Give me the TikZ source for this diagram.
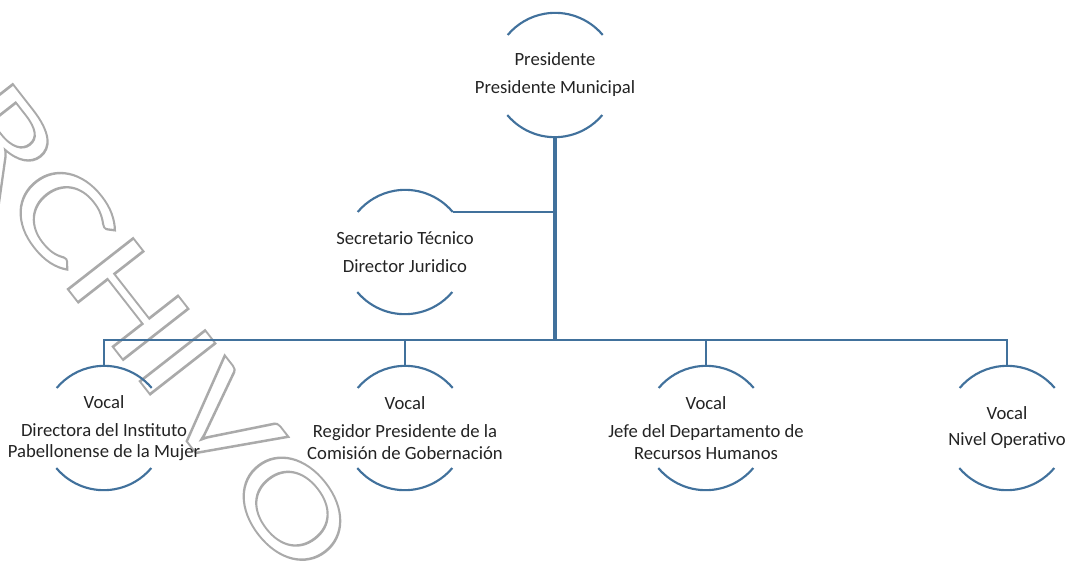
\documentclass[tikz,border=0pt]{standalone}
\usepackage{fontspec}
\setmainfont{Carlito}
\definecolor{lineblue}{RGB}{65,113,156}
\definecolor{wmgray}{RGB}{170,170,170}
\definecolor{txt}{RGB}{35,35,35}
\newcommand\outlinetext[1]{\special{pdf:literal direct 1 Tr 1.4 w}#1\special{pdf:literal direct 0 Tr}}
\tikzset{
  ring/.style={circle, minimum size=93pt, inner sep=0pt, draw=none},
  lbl/.style={align=center, text=txt, inner sep=0pt, font=\fontsize{14}{16}\selectfont},
  arcline/.style={draw=lineblue, line width=1.6pt},
  conn/.style={draw=lineblue, line width=1.5pt},
  trunk/.style={draw=lineblue, line width=2.3pt},
}
\newcommand\orgarcs[1]{%
  \draw[arcline] (#1.40) arc[start angle=40,end angle=140,radius=62];
  \draw[arcline] (#1.220) arc[start angle=220,end angle=320,radius=62];}
\begin{document}
\begin{tikzpicture}[x=0.75pt,y=0.75pt]
\useasboundingbox (0,0) rectangle (1066,-569);
% watermark
\begin{scope}[shift={(118,-286)}]
\node[rotate=-52, xscale=1.42, transform shape, inner sep=0pt, text=wmgray] (wm) at (0,0)
  {\fontsize{97}{97}\selectfont\outlinetext{ARCHIVO}};
\end{scope}
% shapes
\node[ring] (P) at (555,-75) {};
\node[ring] (S) at (405,-252) {};
\node[ring] (V1) at (104,-428) {};
\node[ring] (V2) at (405,-428) {};
\node[ring] (V3) at (706,-428) {};
\node[ring] (V4) at (1007,-428) {};
\coordinate (bus) at (555,-340);
% labels
\node[lbl] (Pt) at (P) {Presidente\\[5pt]Presidente Municipal};
\node[lbl] (St) at (S) {Secretario Técnico\\[5pt]Director Juridico};
\node[lbl] (V1t) at (V1) {Vocal\\[5pt]Directora del Instituto\\Pabellonense de la Mujer};
\node[lbl] (V2t) at (V2) {Vocal\\[5pt]Regidor Presidente de la\\Comisión de Gobernación};
\node[lbl] (V3t) at (V3) {Vocal\\[5pt]Jefe del Departamento de\\Recursos Humanos};
\node[lbl] (V4t) at (V4) {Vocal\\[3.5pt]Nivel Operativo};
% arcs
\orgarcs{P}\orgarcs{S}\orgarcs{V1}\orgarcs{V2}\orgarcs{V3}\orgarcs{V4}
% connectors
\draw[trunk] (P.south) -- (bus);
\draw[conn] (S.40) -- (S.40 -| P.south);
\draw[conn] (V1.north) -- (V1.north |- bus) -- (V4.north |- bus) -- (V4.north);
\draw[conn] (V2.north) -- (V2.north |- bus);
\draw[conn] (V3.north) -- (V3.north |- bus);
\end{tikzpicture}
\end{document}
